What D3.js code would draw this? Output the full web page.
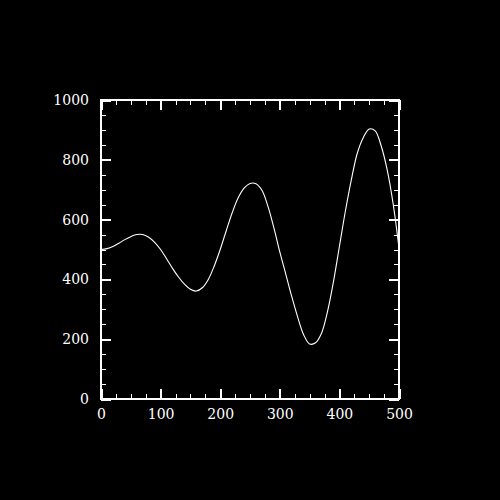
<!DOCTYPE html>
<html>
<head>
<meta charset="utf-8">
<script src="https://cdn.jsdelivr.net/npm/d3@7"></script>
<style>
  body { margin: 0; background: #000; }
  svg { display: block; background: #000; }
</style>
</head>
<body>
<div id="chart"></div>
<script>
// values
const xValues = [0, 10, 20, 30, 40, 50, 60, 70, 80, 90, 100, 110, 120, 130, 140, 150, 160, 170, 180, 190,
                 200, 210, 220, 230, 240, 250, 260, 270, 280, 290, 300, 310, 320, 330, 340, 350, 360, 370, 380, 390,
                 400, 410, 420, 430, 440, 450, 460, 470, 480, 490, 500];
const yValues = [500, 503, 510, 521, 533, 543, 550, 550, 541, 524, 500, 469, 437, 408, 384, 367, 361, 372, 400, 445,
                 500, 562, 622, 672, 705, 721, 720, 698, 645, 573, 492, 418, 343, 274, 215, 184, 188, 220, 292, 392,
                 510, 628, 733, 822, 874, 903, 897, 847, 768, 655, 505];
const xMajor = [0, 100, 200, 300, 400, 500];
const yMajor = [0, 200, 400, 600, 800, 1000];
const xMinor = d3.range(0, 501, 25);
const yMinor = d3.range(0, 1001, 50);

const W = 500, H = 500;
const x = d3.scaleLinear().domain([0, 500]).range([101, 399]);
const y = d3.scaleLinear().domain([0, 1000]).range([399, 100]);

const svg = d3.select('#chart').append('svg')
    .attr('width', W)
    .attr('height', H);

const font = '"DejaVu Serif", serif';

function axis(gen, tx, ty, values, size, labels, width, pad) {
    const g = svg.append('g')
        .attr('transform', `translate(${tx}, ${ty})`)
        .call(gen.tickValues(values).tickSizeInner(-size).tickSizeOuter(0)
            .tickPadding(pad || 0)
            .tickFormat(labels ? d3.format('d') : ''));
    g.select('.domain').remove();
    g.selectAll('.tick line')
        .attr('stroke', '#fff')
        .attr('stroke-width', width)
        .attr('shape-rendering', 'crispEdges');
    g.selectAll('.tick text')
        .attr('fill', '#fff')
        .style('font-family', font)
        .style('font-size', '14px');
    return g;
}

// minor ticks, all four sides
axis(d3.axisBottom(x), 0, 399, xMinor, 5, false, 1);
axis(d3.axisTop(x), 0, 100, xMinor, 5, false, 1);
axis(d3.axisLeft(y), 101, 0, yMinor, 5, false, 1);
axis(d3.axisRight(y), 399, 0, yMinor, 5, false, 1);

// major ticks, labels on bottom and left
axis(d3.axisBottom(x), 0, 399, xMajor, 10, true, 2, 10);
axis(d3.axisTop(x), 0, 100, xMajor, 10, false, 2);
axis(d3.axisLeft(y), 101, 0, yMajor, 10, true, 2, 12);
axis(d3.axisRight(y), 399, 0, yMajor, 10, false, 2);

// frame
svg.append('rect')
    .attr('x', 101)
    .attr('y', 100)
    .attr('width', 298)
    .attr('height', 299)
    .attr('fill', 'none')
    .attr('stroke', '#fff')
    .attr('stroke-width', 2)
    .attr('shape-rendering', 'crispEdges');

// the curve
const data = xValues.map((d, i) => ({ x: d, y: yValues[i] }));
const line = d3.line()
    .x(d => x(d.x))
    .y(d => y(d.y))
    .curve(d3.curveCatmullRom.alpha(0.5));

svg.append('path')
    .datum(data)
    .attr('d', line)
    .attr('fill', 'none')
    .attr('stroke', '#fff')
    .attr('stroke-width', 1.1);
</script>
</body>
</html>
